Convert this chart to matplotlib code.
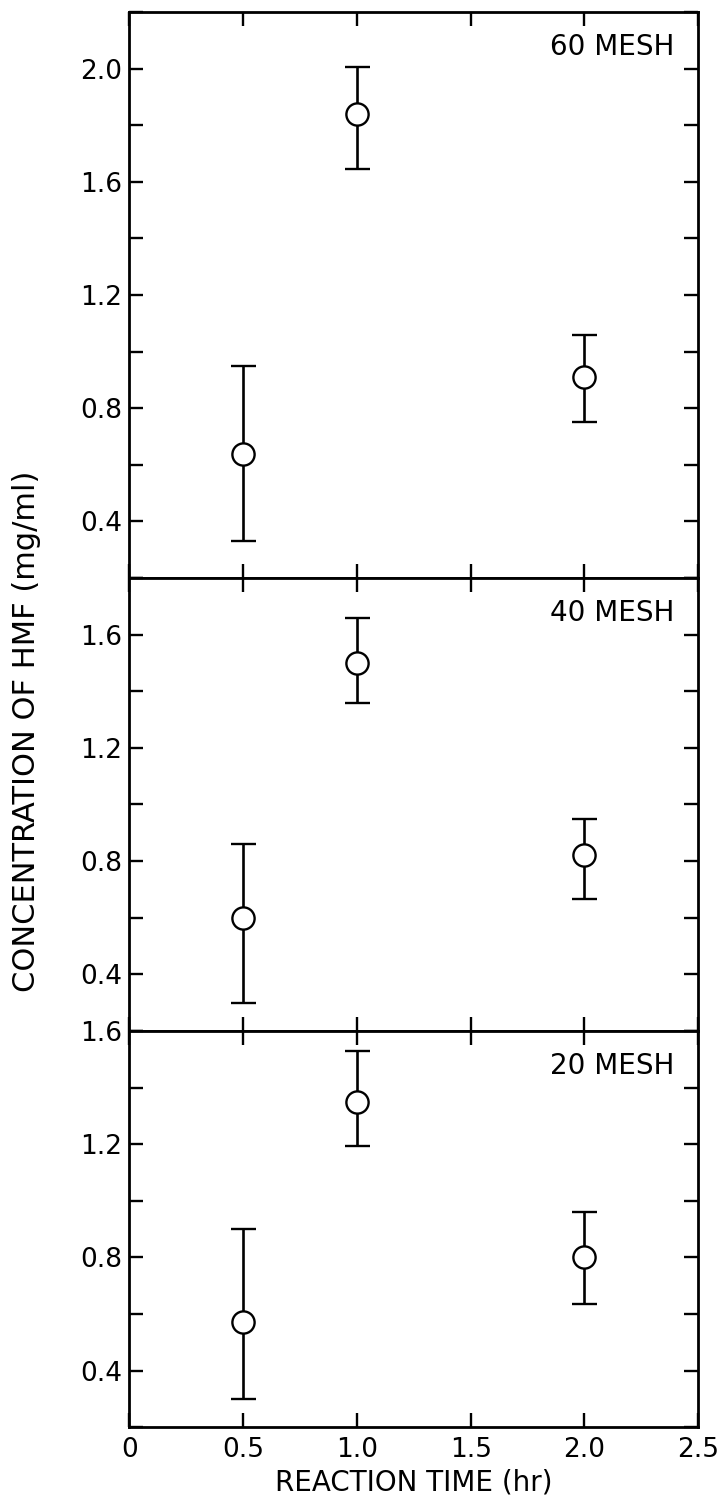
import matplotlib.pyplot as plt
import numpy as np
from matplotlib.ticker import MultipleLocator, FixedLocator, FixedFormatter


# Data (HMF concentration, mg/ml)

times = [0.5, 1.0, 2.0]

hmf_60 = [0.64, 1.84, 0.91]
low_60 = [0.33, 1.645, 0.75]
high_60 = [0.95, 2.005, 1.06]

hmf_40 = [0.60, 1.50, 0.82]
low_40 = [0.30, 1.36, 0.665]
high_40 = [0.86, 1.66, 0.95]

hmf_20 = [0.57, 1.35, 0.80]
low_20 = [0.30, 1.195, 0.635]
high_20 = [0.90, 1.53, 0.96]

panel_names = ["60 MESH", "40 MESH", "20 MESH"]
y_limits = [(0.2, 2.2), (0.2, 1.8), (0.2, 1.6)]
y_labels = [[0.4, 0.8, 1.2, 1.6, 2.0], [0.4, 0.8, 1.2, 1.6], [0.4, 0.8, 1.2, 1.6]]
x_ticks = [0, 0.5, 1.0, 1.5, 2.0, 2.5]
x_tick_labels = ["0", "0.5", "1.0", "1.5", "2.0", "2.5"]

panels = [(hmf_60, low_60, high_60), (hmf_40, low_40, high_40), (hmf_20, low_20, high_20)]


plt.rcParams['font.family'] = ['DejaVu Sans']

fig = plt.figure(figsize=(7.19, 15.07), dpi=100)
gs = fig.add_gridspec(3, 1, height_ratios=[2.0, 1.6, 1.4], hspace=0,
                      left=0.18, right=0.971, top=0.992, bottom=0.053)

for i, (vals, lo, hi) in enumerate(panels):
    ax = fig.add_subplot(gs[i])
    vals = np.array(vals)
    yerr = np.array([vals - np.array(lo), np.array(hi) - vals])
    ax.errorbar(times, vals, yerr=yerr, fmt='o', color='black', ms=16,
                mfc='white', mec='black', mew=1.7, elinewidth=1.9,
                capsize=9, capthick=2.6, zorder=3)

    ax.set_xlim(0, 2.5)
    ax.set_ylim(*y_limits[i])
    ax.xaxis.set_major_locator(FixedLocator(x_ticks))
    ax.yaxis.set_major_locator(FixedLocator(y_labels[i]))
    ax.yaxis.set_major_formatter(FixedFormatter([f"{v:.1f}" for v in y_labels[i]]))
    ax.yaxis.set_minor_locator(MultipleLocator(0.2))

    ax.tick_params(which='both', direction='in', top=True, right=True,
                   length=10, width=1.7, labelsize=19, pad=5)
    ax.tick_params(axis='x', pad=7)
    if i < 2:
        ax.tick_params(axis='x', labelbottom=False)
    else:
        ax.set_xticklabels(x_tick_labels)
        ax.set_xlabel("REACTION TIME (hr)", fontsize=20, labelpad=4)

    for sp in ax.spines.values():
        sp.set_linewidth(2.0)

    ax.annotate(panel_names[i], xy=(1, 1), xycoords='axes fraction',
                xytext=(-17, -15), textcoords='offset points',
                ha='right', va='top', fontsize=20)

fig.text(0.037, 0.515, "CONCENTRATION OF HMF (mg/ml)", rotation=90,
         ha='center', va='center', fontsize=22)

fig.savefig("out.png", dpi=100)
